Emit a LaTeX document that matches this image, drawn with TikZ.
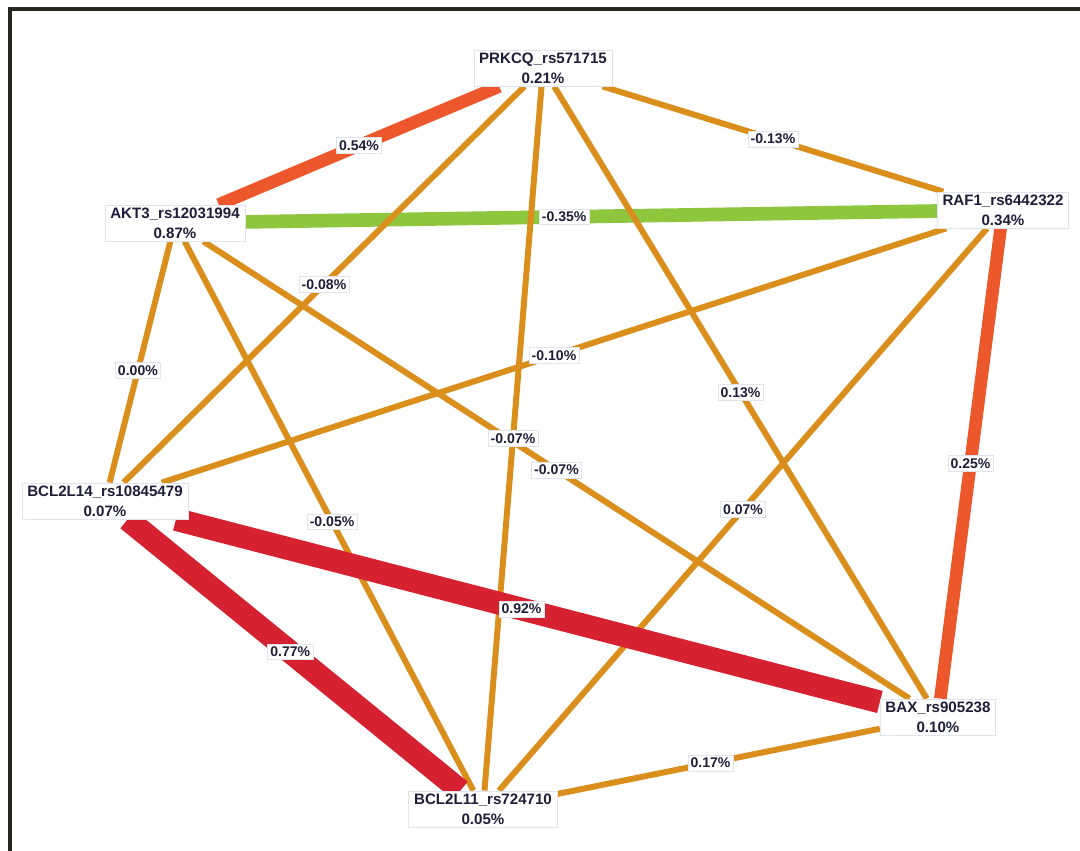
\documentclass[tikz,border=0pt]{standalone}
\usepackage{fontspec}
\setmainfont{Liberation Sans}
\usetikzlibrary{calc}
\definecolor{eorange}{RGB}{218,142,28}
\definecolor{ered}{RGB}{214,34,48}
\definecolor{eorred}{RGB}{236,88,44}
\definecolor{egreen}{RGB}{142,198,62}
\definecolor{txtc}{RGB}{30,30,58}
\definecolor{framec}{RGB}{38,38,32}
\definecolor{boxc}{RGB}{222,228,236}
\pgfdeclarelayer{bg}
\pgfdeclarelayer{edges}
\pgfsetlayers{bg,edges,main}
\begin{document}
\begin{tikzpicture}[x=0.02cm,y=-0.02cm,
  gene/.style={draw=boxc,line width=0.4pt,fill=white,align=center,
    font=\fontsize{8.6}{11.3}\selectfont\bfseries,text=txtc,inner xsep=3pt,inner ysep=1.6pt},
  elab/.style={draw=boxc,line width=0.3pt,fill=white,font=\fontsize{8}{9}\selectfont\bfseries,
    text=txtc,inner xsep=1.5pt,inner ysep=1.6pt},
  wthin/.style={draw=eorange,line width=3.4pt},
  wmid/.style={draw=eorred,line width=7.2pt},
  wgreen/.style={draw=egreen,line width=7.8pt},
  wthick/.style={draw=ered,line width=13pt}]
\useasboundingbox (0,0) rectangle (1080,851);
\begin{pgfonlayer}{bg}
  \fill[white] (0,0) rectangle (1080,851);
  \draw[framec,line width=2.8pt] (10,851) -- (10,9) -- (1080,9);
\end{pgfonlayer}

\node[gene] (P) at (543,68) {PRKCQ\_rs571715\\0.21\%};
\node[gene] (A) at (175,223) {AKT3\_rs12031994\\0.87\%};
\node[gene] (R) at (1003,210) {RAF1\_rs6442322\\0.34\%};
\node[gene] (L) at (105,501) {BCL2L14\_rs10845479\\0.07\%};
\node[gene] (X) at (938,717) {BAX\_rs905238\\0.10\%};
\node[gene] (B) at (483,809) {BCL2L11\_rs724710\\0.05\%};

\begin{pgfonlayer}{edges}
  \draw[wgreen] (A) -- (R);
  \draw[wthin] (P) -- (R);
  \draw[wthin] (P) -- (L);
  \draw[wthin] (P) -- (B);
  \draw[wthin] (P) -- (X);
  \draw[wthin] (A) -- (L);
  \draw[wthin] (A) -- (B);
  \draw[wthin] (A) -- (X);
  \draw[wthin] (R) -- (L);
  \draw[wthin] (R) -- (B);
  \draw[wthin] (X) -- (B);
  \draw[wmid] (P) -- (A);
  \draw[wmid] (R) -- (X);
  \draw[wthick] (L) -- (X);
  \draw[wthick] (L) -- (B);
\end{pgfonlayer}

\node[elab] (l1) at ($(P.center)!0.5!(A.center)$) {0.54\%};
\node[elab] (l2) at ($(P.center)!0.5!(R.center)$) {-0.13\%};
\node[elab] (l3) at ($(A.center)!0.47!(R.center)$) {-0.35\%};
\node[elab] (l4) at ($(P.center)!0.5!(L.center)$) {-0.08\%};
\node[elab] (l5) at ($(P.center)!0.5!(B.center)$) {-0.07\%};
\node[elab] (l6) at ($(P.center)!0.5!(X.center)$) {0.13\%};
\node[elab] (l7) at ($(A.center)!0.53!(L.center)$) {0.00\%};
\node[elab] (l8) at ($(A.center)!0.51!(B.center)$) {-0.05\%};
\node[elab] (l9) at ($(A.center)!0.5!(X.center)$) {-0.07\%};
\node[elab] (l10) at ($(R.center)!0.5!(L.center)$) {-0.10\%};
\node[elab] (l11) at ($(R.center)!0.5!(B.center)$) {0.07\%};
\node[elab] (l12) at ($(R.center)!0.5!(X.center)$) {0.25\%};
\node[elab] (l13) at ($(L.center)!0.5!(X.center)$) {0.92\%};
\node[elab] (l14) at ($(L.center)!0.49!(B.center)$) {0.77\%};
\node[elab] (l15) at ($(X.center)!0.5!(B.center)$) {0.17\%};
\end{tikzpicture}
\end{document}
